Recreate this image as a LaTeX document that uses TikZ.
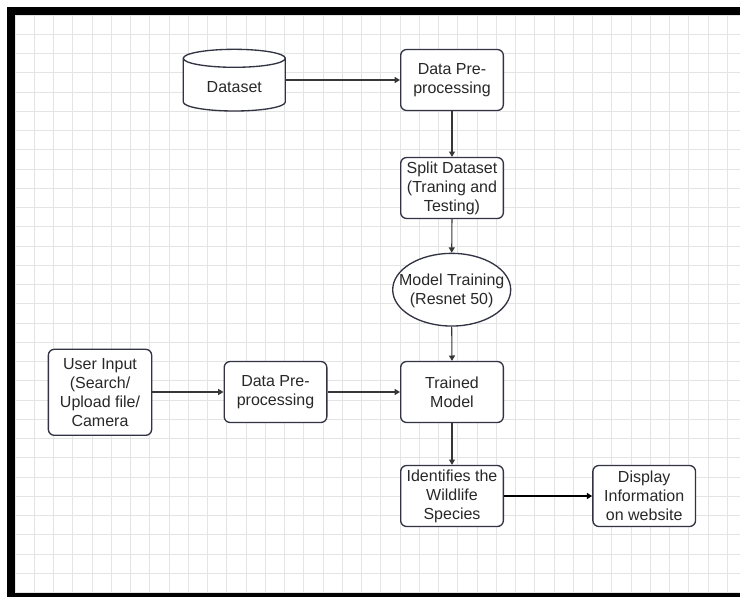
\documentclass[tikz,border=0pt]{standalone}
\usepackage{fontspec}
\setmainfont{Liberation Sans}
\usetikzlibrary{arrows.meta,shapes.geometric}
\definecolor{edgec}{RGB}{50,52,68}
\definecolor{txtc}{RGB}{40,40,40}
\definecolor{gridc}{RGB}{228,228,228}
\definecolor{arrc}{RGB}{55,55,55}
\begin{document}
\begin{tikzpicture}[x=0.75pt,y=-0.75pt,
  txtstyle/.style={align=center, text=txtc, font=\fontsize{12}{14.3}\selectfont, inner sep=0pt},
  box/.style={txtstyle, draw=edgec, line width=1pt, rounded corners=4.5pt, fill=white,
              minimum width=77pt, minimum height=45.75pt},
  flow/.style={draw=arrc, line width=0.8pt, -{Triangle[width=4.5pt,length=4pt]}}
]
\useasboundingbox (0,0) rectangle (740,597);
\fill[white] (0,0) rectangle (740,597);
% grid
\begin{scope}
\clip (15,15) rectangle (740,593);
\foreach \i in {0,...,38} \draw[gridc, line width=0.75pt] ({15+19.25*\i},15) -- ({15+19.25*\i},593);
\foreach \j in {0,...,30} \draw[gridc, line width=0.75pt] (15,{15+19.25*\j}) -- (740,{15+19.25*\j});
\end{scope}
% black frame
\fill[black] (7,7) rectangle (740,15);
\fill[black] (7,7) rectangle (15,597);
\fill[black] (7,593) rectangle (740,597);

% cylinder (Dataset)
\node[minimum width=76.5pt, minimum height=46pt, inner sep=0pt] (ds) at (234.3,80) {};
\draw[edgec, line width=1pt, fill=white] (183.3,58.3) -- (183.3,102)
  arc[start angle=180,end angle=360,x radius=38.25pt,y radius=6.75pt] -- (285.3,58.3)
  arc[start angle=0,end angle=180,x radius=38.25pt,y radius=6.75pt] -- cycle;
\draw[edgec, line width=1pt] (183.3,58.3) arc[start angle=180,end angle=360,x radius=38.25pt,y radius=6.75pt];
\node[txtstyle] (dstext) at (234.3,87) {Dataset};

% nodes
\node[box] (dp1) at (452,80) {Data Pre-\\processing};
\node[box] (split) at (452,188) {Split Dataset\\(Traning and\\Testing)};
\node[draw=edgec, line width=1pt, fill=white, ellipse, minimum width=88.5pt, minimum height=54.5pt, inner sep=0pt] (mt) at (451.7,289.7) {};
\node[txtstyle] (mttext) at (451.7,290.5) {Model Training\\(Resnet 50)};
\node[box] (tm) at (452,392) {Trained\\Model};
\node[box, minimum width=77.5pt, minimum height=64.5pt] (ui) at (100,392.3) {User Input\\(Search/\\Upload file/\\Camera};
\node[box] (dp2) at (275.5,392) {Data Pre-\\processing};
\node[box] (id) at (452,496) {Identifies the\\Wildlife\\Species};
\node[box] (disp) at (644.2,496) {Display\\Information\\on website};

% connectors
\draw[flow] (ds.east) -- (dp1.west);
\draw[flow] (dp1.south) -- (split.north);
\draw[flow] (split.south) -- (mt.north);
\draw[flow] (mt.south) -- (tm.north);
\draw[flow] (ui.east |- dp2.west) -- (dp2.west);
\draw[flow] (dp2.east) -- (tm.west);
\draw[flow] (tm.south) -- (id.north);
\draw[flow, line width=1pt, draw=black] (id.east) -- (disp.west);
\end{tikzpicture}
\end{document}
